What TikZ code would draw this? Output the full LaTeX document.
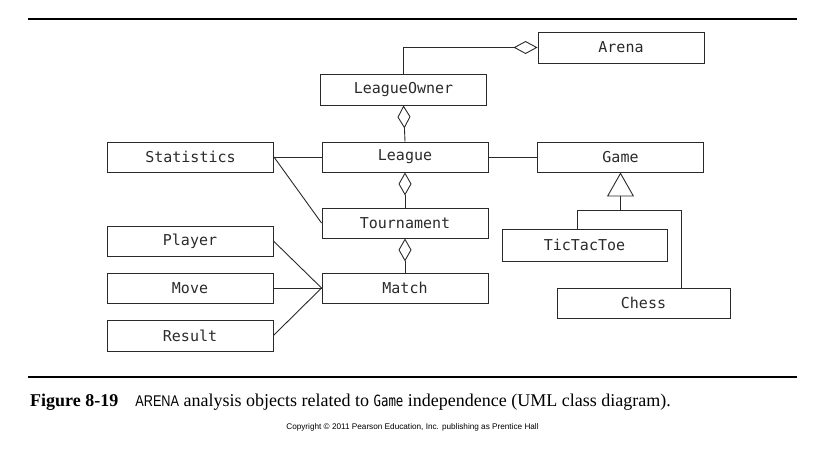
\documentclass[tikz,border=0pt]{standalone}
\usepackage{fontspec}
\setmainfont{Liberation Serif}
\newfontfamily\boxfont{DejaVu Sans Mono}
\newfontfamily\capsans{Liberation Sans}
\usetikzlibrary{arrows.meta}
\definecolor{ink}{HTML}{2A2A2A}
\tikzset{
  cls/.style={draw=ink, line width=0.9pt, minimum width=166pt, minimum height=31pt, inner sep=0pt,
    font=\boxfont\fontsize{15}{16}\selectfont, text=ink},
  conn/.style={draw=ink, line width=0.9pt},
  agg/.style={conn, {Diamond[open, length=23pt, width=13pt, line width=0.9pt]}-},
  aggend/.style={conn, -{Diamond[open, length=24pt, width=13pt, line width=0.9pt]}},
  gen/.style={conn, -{Triangle[open, length=24pt, width=27pt, line width=0.9pt]}},
  rule/.style={line width=2.6pt, black}
}
\begin{document}
\begin{tikzpicture}[x=1pt, y=-1pt]
\useasboundingbox (0,0) rectangle (824,449);
% rules
\coordinate (r1a) at (28,19); \coordinate (r1b) at (797,19);
\coordinate (r2a) at (28,377); \coordinate (r2b) at (797,377);
\draw[rule] (r1a) -- (r1b);
\draw[rule] (r2a) -- (r2b);
% classes
\node[cls] (arena) at (621,47.5) {Arena};
\node[cls] (owner) at (403.5,89.5) {LeagueOwner};
\node[cls, minimum height=30pt] (stats) at (190.5,157) {Statistics};
\node[cls, minimum height=30pt] (league) at (405,157) {League};
\node[cls, minimum height=30pt] (tourn) at (405,223) {Tournament};
\node[cls, minimum height=30pt] (match) at (405,288) {Match};
\node[cls, minimum height=30pt] (player) at (190,241) {Player};
\node[cls, minimum height=30pt] (move) at (190,288) {Move};
\node[cls] (result) at (190,335.5) {Result};
\node[cls, minimum height=30pt] (game) at (620.5,157) {Game};
\node[cls, minimum width=165pt, minimum height=32pt] (ttt) at (584.5,245) {TicTacToe};
\node[cls, minimum width=173pt, minimum height=30pt] (chess) at (643.5,303) {Chess};
% connectors
\draw[aggend] (owner.north) |- (arena.west);
\draw[agg] (owner.south) -- (league.north);
\draw[agg] (league.south) -- (tourn.north);
\draw[agg] (tourn.south) -- (match.north);
\draw[conn] (stats.east) -- (league.west);
\draw[conn] (stats.east) -- (tourn.west);
\draw[conn] (league.east) -- (game.west);
\draw[conn] (player.east) -- (match.west);
\draw[conn] (move.east) -- (match.west);
\draw[conn] (result.east) -- (match.west);
\coordinate (gj) at (game.south |- 0,210);
\coordinate (tttop) at (577,0);
\coordinate (chtop) at (681,0);
\draw[gen] (ttt.north -| tttop) |- (gj) -- (game.south);
\draw[conn] (chess.north -| chtop) |- (gj);
% caption
\node[anchor=west, inner sep=0pt, font=\fontsize{18}{20}\selectfont] (cap) at (30,402)
  {\textbf{Figure 8-19}\hspace{17pt}{\capsans\fontsize{15.5}{17}\selectfont\addfontfeature{FakeStretch=0.82}ARENA} analysis objects related to {\boxfont\fontsize{15.5}{17}\selectfont\addfontfeature{FakeStretch=0.8}Game} independence (UML class diagram).};
\node[inner sep=0pt, font=\capsans\fontsize{8.2}{9}\selectfont] (copy) at (412.5,427)
  {Copyright \textcopyright\ 2011 Pearson Education, Inc. publishing as Prentice Hall};
\end{tikzpicture}
\end{document}
